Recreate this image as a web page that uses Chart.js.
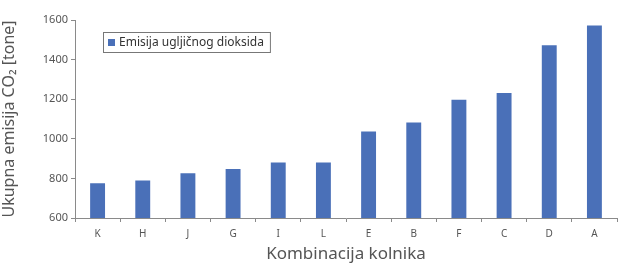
<!DOCTYPE html>
<html>
<head>
<meta charset="utf-8">
<script src="https://cdn.jsdelivr.net/npm/chart.js@4/dist/chart.umd.min.js"></script>
<style>
  html, body { margin: 0; padding: 0; background: #fff; }
  #wrap { width: 618px; height: 264px; }
</style>
</head>
<body>
<div id="wrap"><canvas id="co2"></canvas></div>
<script>
const categories = ["K", "H", "J", "G", "I", "L", "E", "B", "F", "C", "D", "A"];
const emisije = [775, 790, 826, 848, 880, 880, 1037, 1082, 1197, 1231, 1472, 1572];
const yTicks = [600, 800, 1000, 1200, 1400, 1600];
const seriesLabel = "Emisija ugljičnog dioksida";

const axisGray = "#8a8a8a";
const textGray = "#555";

// legend drawn inside the plot, like the original
const boxLegend = {
  id: "boxLegend",
  afterDraw(chart) {
    const ctx = chart.ctx;
    const ds = chart.data.datasets[0];
    ctx.save();
    ctx.font = "12px 'Noto Sans'";
    const w = ctx.measureText(ds.label).width + 22;
    const x = 103, y = 32, h = 20;
    ctx.fillStyle = "#fff";
    ctx.fillRect(x, y, w, h);
    ctx.strokeStyle = "#777";
    ctx.lineWidth = 1;
    ctx.strokeRect(x + 0.5, y + 0.5, w, h);
    ctx.fillStyle = ds.backgroundColor;
    ctx.fillRect(x + 5, y + 7, 7, 7);
    ctx.fillStyle = "#333";
    ctx.textBaseline = "middle";
    ctx.fillText(ds.label, x + 16, y + h / 2 + 1);
    ctx.restore();
  }
};

new Chart(document.getElementById("co2"), {
  type: "bar",
  data: {
    labels: categories,
    datasets: [
      {
        label: seriesLabel,
        data: emisije,
        backgroundColor: "#4a70b8",
        borderWidth: 0,
        barPercentage: 0.33,
        categoryPercentage: 1,
      },
    ],
  },
  options: {
    responsive: true,
    maintainAspectRatio: false,
    animation: false,
    layout: { padding: { top: 20, right: 1, left: 0, bottom: 0 } },
    plugins: {
      legend: { display: false },
      tooltip: { enabled: false },
    },
    scales: {
      x: {
        afterFit(s) { s.height = 46; },
        border: { display: true, color: axisGray, width: 1 },
        grid: { drawOnChartArea: false, drawTicks: true, tickLength: 4, color: axisGray, offset: true },
        ticks: { color: textGray, font: { family: "Noto Sans", size: 10 }, padding: 6 },
        title: {
          display: true,
          text: "Kombinacija kolnika",
          color: textGray,
          font: { family: "Noto Sans", size: 17 },
          padding: { top: 0, bottom: 0 },
        },
      },
      y: {
        min: 600,
        max: 1600,
        afterFit(s) { s.width = 75; },
        afterBuildTicks(s) { s.ticks = yTicks.map(v => ({ value: v })); },
        border: { display: true, color: axisGray, width: 1 },
        grid: { drawOnChartArea: false, drawTicks: true, tickLength: 4, color: axisGray },
        ticks: {
          color: textGray,
          font: { family: "Noto Sans", size: 11 },
          padding: 3,
          callback: v => String(v),
        },
        title: {
          display: true,
          text: "Ukupna emisija CO₂ [tone]",
          color: textGray,
          font: { family: "Noto Sans", size: 16 },
          padding: { top: 0, bottom: 2 },
        },
      },
    },
  },
  plugins: [boxLegend],
});
</script>
</body>
</html>
